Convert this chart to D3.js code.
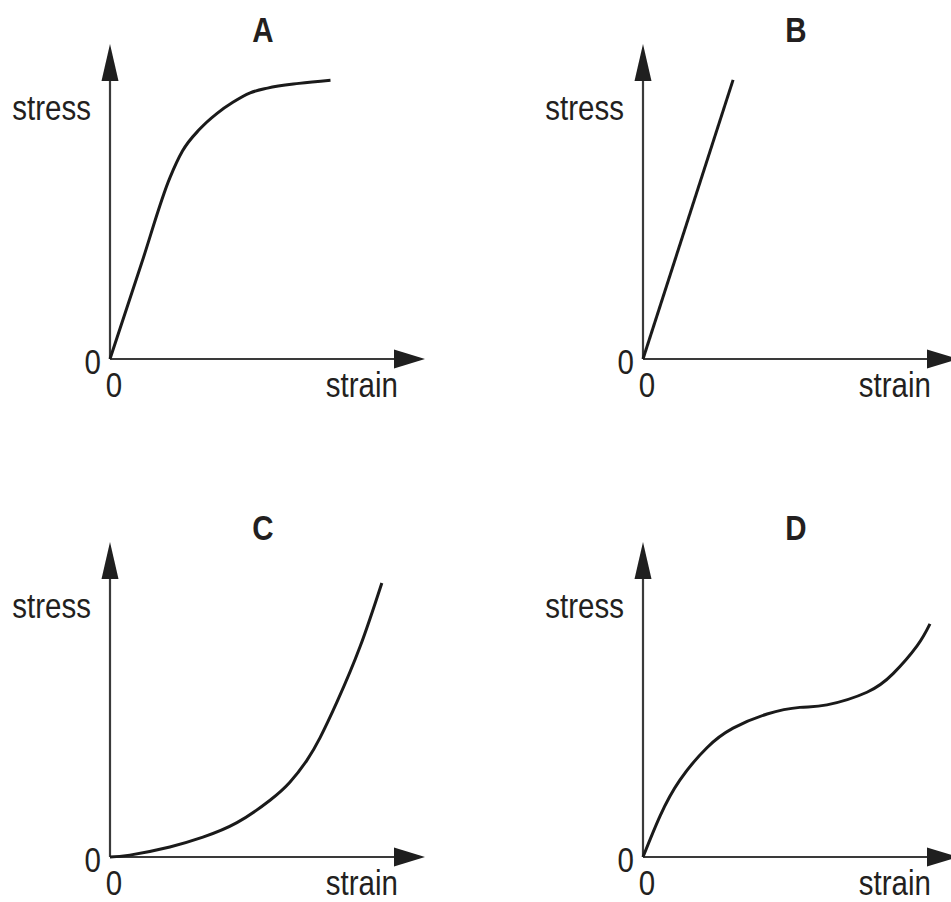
<!DOCTYPE html>
<html>
<head>
<meta charset="utf-8">
<script src="https://cdn.jsdelivr.net/npm/d3@7"></script>
<style>
  html, body { margin: 0; padding: 0; background: #fff; }
  svg { display: block; }
  text { font-family: "Liberation Sans", Arial, sans-serif; fill: #231f20; }
</style>
</head>
<body>
<div id="chart"></div>
<script>
// panel titles and axis text
const panelNames = ['A', 'B', 'C', 'D']
const yLabel = 'stress'
const xLabel = 'strain'
const zeroTick = '0'

// curves (arbitrary units, axes run 0..10)
const strainA = [0, 1.0, 1.9, 2.3, 2.85, 3.4, 3.9, 4.45, 5.0, 6.0, 7.0]
const stressA = [0, 3.03, 5.75, 6.6, 7.3, 7.8, 8.15, 8.45, 8.6, 8.75, 8.85]

const strainB = [0, 2.86]
const stressB = [0, 8.86]

const strainC = [0, 0.63, 1.90, 2.95, 4.03, 5.08, 5.71, 6.25, 6.67, 7.21, 7.94, 8.63]
const stressC = [0, 0.06, 0.32, 0.63, 1.09, 1.80, 2.37, 3.07, 3.79, 4.93, 6.68, 8.70]

const strainD = [0, 0.54, 1.17, 2.03, 2.86, 3.94, 4.98, 5.84, 7.11, 7.94, 8.70, 9.11]
const stressD = [0, 1.30, 2.44, 3.47, 4.09, 4.54, 4.75, 4.83, 5.23, 5.82, 6.70, 7.40]

const axisMax = 10

const width = 951
const height = 902
const side = 315
const narrow = 0.82 // squeeze Liberation Sans to look like a condensed face

// origin of each panel in page pixels
const origins = [
  { x: 110, y: 359 },
  { x: 643, y: 359 },
  { x: 110, y: 857 },
  { x: 643, y: 857 }
]

const curves = [
  { x: strainA, y: stressA, type: d3.curveMonotoneX },
  { x: strainB, y: stressB, type: d3.curveLinear },
  { x: strainC, y: stressC, type: d3.curveNatural },
  { x: strainD, y: stressD, type: d3.curveNatural }
]

const svg = d3.select('#chart').append('svg')
  .attr('width', width)
  .attr('height', height)

function label(g, x, y, txt, anchor, bold) {
  g.append('text')
    .attr('transform', `translate(${x},${y}) scale(${narrow},1)`)
    .attr('text-anchor', anchor)
    .style('font-size', '36px')
    .style('font-weight', bold ? 'bold' : 'normal')
    .text(txt)
}

function drawPanel(i) {
  const o = origins[i]
  const x = d3.scaleLinear().domain([0, axisMax]).range([o.x, o.x + side])
  const y = d3.scaleLinear().domain([0, axisMax]).range([o.y, o.y - side])
  const g = svg.append('g')

  // axes
  g.append('line')
    .attr('x1', x(0)).attr('y1', y(0)).attr('x2', x(axisMax) - 20).attr('y2', y(0))
    .attr('stroke', '#3a3a3a').attr('stroke-width', 2.2)
  g.append('line')
    .attr('x1', x(0)).attr('y1', y(0)).attr('x2', x(0)).attr('y2', y(axisMax) + 25)
    .attr('stroke', '#3a3a3a').attr('stroke-width', 2.2)

  // arrow heads
  const tx = x(axisMax), ty = y(axisMax)
  g.append('path')
    .attr('d', `M${tx},${y(0)} L${tx - 31},${y(0) - 9.5} L${tx - 31},${y(0) + 9.5} Z`)
    .attr('fill', '#1f1f1f')
  g.append('path')
    .attr('d', `M${x(0)},${ty} L${x(0) - 8.5},${ty + 37} L${x(0) + 8.5},${ty + 37} Z`)
    .attr('fill', '#1f1f1f')

  // curve
  const c = curves[i]
  const pts = c.x.map((v, k) => [v, c.y[k]])
  const line = d3.line()
    .x(d => x(d[0]))
    .y(d => y(d[1]))
    .curve(c.type)
  g.append('path')
    .datum(pts)
    .attr('d', line)
    .attr('fill', 'none')
    .attr('stroke', '#1a1a1a')
    .attr('stroke-width', 3)

  // texts
  label(g, o.x + 153, o.y - 317, panelNames[i], 'middle', true)
  label(g, o.x - 19, o.y - 239, yLabel, 'end')
  label(g, o.x - 9, o.y + 15, zeroTick, 'end')
  label(g, o.x + 4, o.y + 38, zeroTick, 'middle')
  label(g, o.x + 288, o.y + 38, xLabel, 'end')
}

panelNames.forEach((_, i) => drawPanel(i))
</script>
</body>
</html>
